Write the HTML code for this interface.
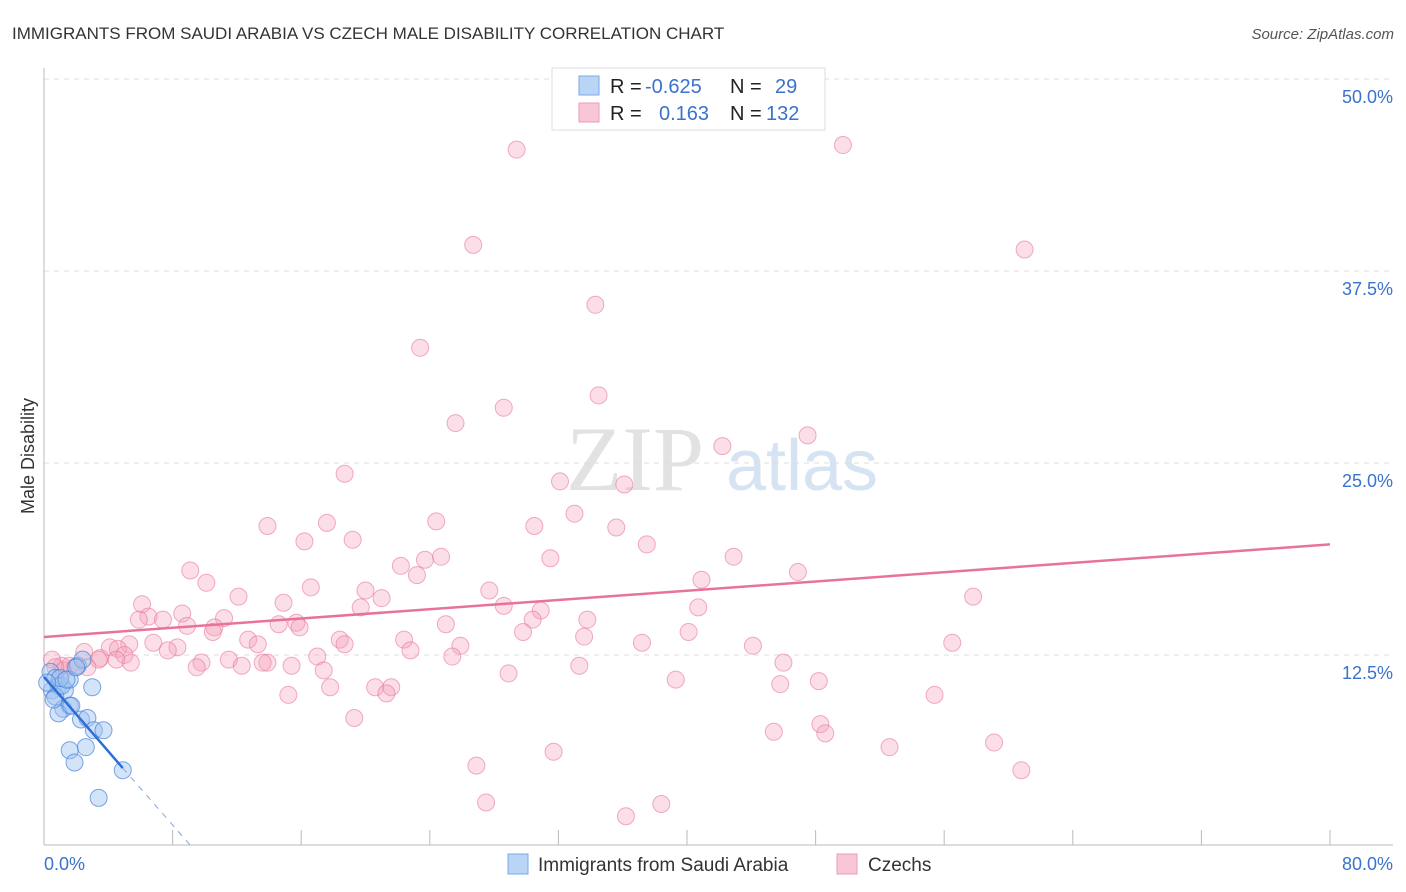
<!DOCTYPE html>
<html><head><meta charset="utf-8"><style>
body{margin:0;background:#fff;font-family:"Liberation Sans",sans-serif;}
#wrap{position:relative;width:1406px;height:892px;overflow:hidden;}
</style></head><body>
<div id="wrap">
<svg id="svg" width="1406" height="892" xmlns="http://www.w3.org/2000/svg">
<text x="12" y="39" font-size="17" fill="#333">IMMIGRANTS FROM SAUDI ARABIA VS CZECH MALE DISABILITY CORRELATION CHART</text>
<text x="1394" y="39" font-size="15" fill="#555" font-style="italic" text-anchor="end">Source: ZipAtlas.com</text>
<text x="635" y="490" font-size="92" fill="#e2e2e2" font-family="Liberation Serif,serif" text-anchor="middle">ZIP</text>
<text x="802" y="490" font-size="72" fill="#d6e3f3" text-anchor="middle">atlas</text>
<text transform="translate(34,456) rotate(-90)" font-size="18" fill="#333" text-anchor="middle">Male Disability</text>
<g id="grid"></g><g id="marks"></g>
<rect x="552" y="68" width="273" height="62" fill="#fff" stroke="#ddd"/>
<rect x="579" y="76" width="20" height="19" fill="#b9d4f5" stroke="#7aaae8"/>
<rect x="579" y="103" width="20" height="19" fill="#f9c6d5" stroke="#ee9ab4"/>
<text y="93" font-size="20"><tspan x="610" fill="#222">R =</tspan><tspan x="645" fill="#3a72cc">-0.625</tspan><tspan x="730" fill="#222">N =</tspan><tspan x="775" fill="#3a72cc">29</tspan></text>
<text y="120" font-size="20"><tspan x="610" fill="#222">R =</tspan><tspan x="659" fill="#3a72cc">0.163</tspan><tspan x="730" fill="#222">N =</tspan><tspan x="766" fill="#3a72cc">132</tspan></text>
<rect x="508" y="854" width="20" height="20" fill="#b9d4f5" stroke="#7aaae8"/>
<text x="538" y="871" font-size="19" fill="#333">Immigrants from Saudi Arabia</text>
<rect x="837" y="854" width="20" height="20" fill="#f9c6d5" stroke="#ee9ab4"/>
<text x="868" y="871" font-size="19" fill="#333">Czechs</text>
</svg>
</div>
<script>
const yTicks=[12.5,25,37.5,50];
const yTickLabels=["12.5%","25.0%","37.5%","50.0%"];
const xTicks=[0,8,16,24,32,40,48,56,64,72,80];
const xEndLabels=["0.0%","80.0%"];
const czechX=[29.4,49.7,26.7,61.0,34.3,23.4,34.5,28.6,25.6,42.2,47.5,18.7,32.1,36.1,13.9,17.6,24.4,33.0,30.5,35.6,16.2,19.2,37.5,31.5,22.2,23.7,24.7,42.9,9.1,23.2,46.9,10.1,16.6,27.7,40.9,20.0,21.0,12.1,6.1,57.8,14.9,19.7,28.6,30.9,40.7,6.5,8.6,11.2,5.9,7.4,15.7,33.8,14.6,25.0,8.9,10.6,15.9,10.5,30.4,29.8,40.1,33.6,6.8,18.4,22.4,12.7,5.3,8.3,13.3,18.7,25.9,37.2,44.1,56.5,4.1,4.6,7.7,2.5,22.8,5.0,3.5,17.0,25.4,11.5,13.9,9.8,4.5,3.4,5.4,9.5,12.3,13.6,15.4,33.3,46.0,17.4,2.7,1.1,1.9,28.9,39.3,17.8,20.6,21.6,48.2,45.8,15.2,21.3,55.4,19.3,48.3,45.4,48.6,59.1,52.6,31.7,26.9,60.8,27.5,38.4,36.2,0.5,1.2,1.6,0.7];
const czechY=[45.4,45.7,39.2,38.9,35.3,32.5,29.4,28.6,27.6,26.1,26.8,24.3,23.8,23.6,20.9,21.1,21.2,21.7,20.9,20.8,19.9,20.0,19.7,18.8,18.3,18.7,18.9,18.9,18.0,17.7,17.9,17.2,16.9,16.7,17.4,16.7,16.2,16.3,15.8,16.3,15.9,15.6,15.7,15.4,15.6,15.0,15.2,14.9,14.8,14.8,14.6,14.8,14.5,14.5,14.4,14.3,14.3,14.0,14.8,14.0,14.0,13.7,13.3,13.5,13.5,13.5,13.2,13.0,13.2,13.2,13.1,13.3,13.1,13.3,13.0,12.9,12.8,12.7,12.8,12.5,12.3,12.4,12.4,12.2,12.0,12.0,12.2,12.2,12.0,11.7,11.8,12.0,11.8,11.8,12.0,11.5,11.7,11.8,11.7,11.3,10.9,10.4,10.4,10.4,10.8,10.6,9.9,10.0,9.9,8.4,8.0,7.5,7.4,6.8,6.5,6.2,5.3,5.0,2.9,2.8,2.0,12.2,11.5,11.8,11.7];
const saudiX=[0.4,0.7,0.5,0.9,1.3,0.7,1.1,1.6,2.1,1.2,1.6,0.9,2.3,2.7,1.7,3.1,2.6,1.6,3.7,1.9,4.9,3.4,3.0,1.0,1.4,0.6,2.4,0.2,2.0];
const saudiY=[11.4,11.0,10.2,10.5,10.2,9.8,10.5,10.9,11.8,9.0,9.2,8.7,8.3,8.4,9.2,7.6,6.5,6.3,7.6,5.5,5.0,3.2,10.4,11.0,10.9,9.6,12.2,10.7,11.7];
const czechTrend=[13.67,19.7];   // y at x=0, y at x=80
const saudiTrend=[11.07,5.14,4.9,9.2]; // y at 0, y at solid end, solid end x, dashed zero x
const X=v=>44+v/80*1286, Y=v=>847-v/12.5*192;
const NS="http://www.w3.org/2000/svg";
function mk(tag,attrs,parent){const e=document.createElementNS(NS,tag);for(const k in attrs)e.setAttribute(k,attrs[k]);parent.appendChild(e);return e;}
const grid=document.getElementById('grid'),marks=document.getElementById('marks');
yTicks.forEach((t,i)=>{
 const l=mk('line',{x1:44,x2:1393,y1:Y(t),y2:Y(t),stroke:'#ddd','stroke-dasharray':'5,5'},grid);
 
 
 const tx=mk('text',{x:1393,y:Y(t)+24,'font-size':18,fill:'#3a72cc','text-anchor':'end'},grid);
 tx.textContent=yTickLabels[i];
 
 
});
const ya=mk('line',{x1:44,x2:44,y1:68,y2:845,stroke:'#bbb'},grid);


const xa=mk('line',{x1:44,x2:1393,y1:845,y2:845,stroke:'#bbb'},grid);


xTicks.forEach(t=>{
 const l=mk('line',{x1:X(t),x2:X(t),y1:830,y2:845,stroke:'#bbb'},grid);
 
 
});
const xl0=mk('text',{x:44,y:870,'font-size':18,fill:'#3a72cc'},grid);xl0.textContent=xEndLabels[0];


const xl1=mk('text',{x:1393,y:870,'font-size':18,fill:'#3a72cc','text-anchor':'end'},grid);xl1.textContent=xEndLabels[1];


czechX.forEach((x,i)=>{
 const c=mk('circle',{cx:X(x),cy:Y(czechY[i]),r:8.5,fill:'rgba(244,160,186,0.35)',stroke:'rgba(232,120,155,0.6)','stroke-width':1},marks);
 
 
});
saudiX.forEach((x,i)=>{
 const c=mk('circle',{cx:X(x),cy:Y(saudiY[i]),r:8.5,fill:'rgba(160,196,240,0.45)',stroke:'rgba(70,130,220,0.7)','stroke-width':1},marks);
 
 
});
const ct=mk('line',{x1:X(0),y1:Y(czechTrend[0]),x2:X(80),y2:Y(czechTrend[1]),stroke:'#e8739a','stroke-width':2.5},marks);


const st=mk('line',{x1:X(0),y1:Y(saudiTrend[0]),x2:X(saudiTrend[2]),y2:Y(saudiTrend[1]),stroke:'#2d6fd6','stroke-width':2.5},marks);


const sd=mk('line',{x1:X(saudiTrend[2]),y1:Y(saudiTrend[1]),x2:X(saudiTrend[3]),y2:Y(0),stroke:'#8aa5d8','stroke-width':1,'stroke-dasharray':'6,6'},marks);


</script>
</body></html>
